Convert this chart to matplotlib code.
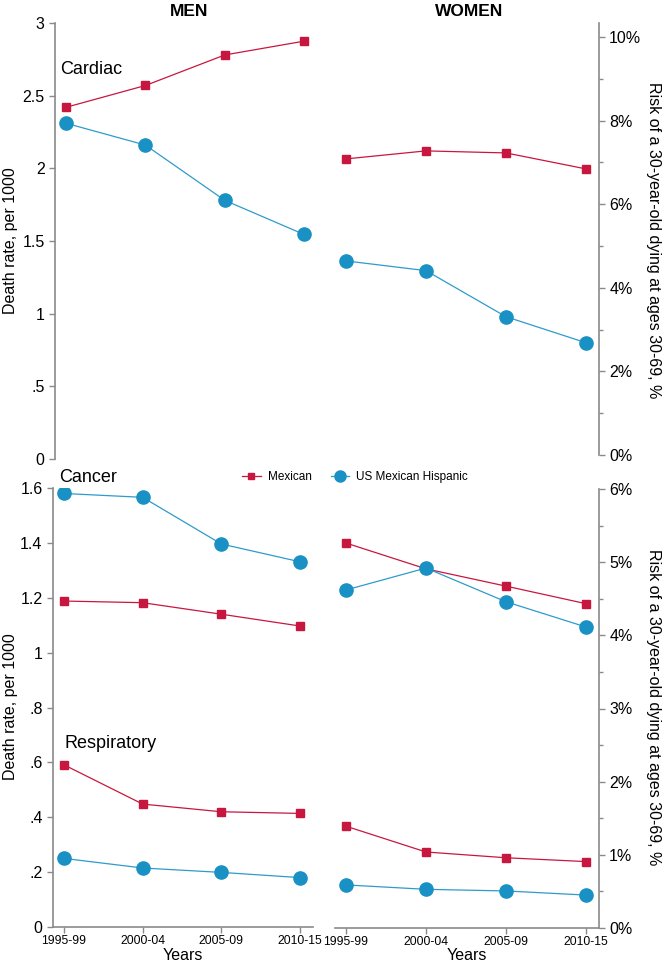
import matplotlib
matplotlib.use("Agg")
import matplotlib.pyplot as plt
from matplotlib.lines import Line2D

plt.rcParams['font.family'] = ['Liberation Sans', 'DejaVu Sans']

periods = ["1995-99", "2000-04", "2005-09", "2010-15"]
series_names = ["Mexican", "US Mexican Hispanic"]

# Death rates per 1000
men_cardiac_mex = [2.42, 2.57, 2.78, 2.875]
men_cardiac_us = [2.31, 2.16, 1.78, 1.545]
women_cardiac_mex = [2.065, 2.12, 2.106, 1.996]
women_cardiac_us = [1.363, 1.296, 0.979, 0.80]

men_cancer_mex = [1.188, 1.182, 1.140, 1.097]
men_cancer_us = [1.580, 1.566, 1.396, 1.331]
men_resp_mex = [0.591, 0.448, 0.420, 0.414]
men_resp_us = [0.250, 0.215, 0.199, 0.180]

women_cancer_mex = [1.403, 1.309, 1.246, 1.182]
women_cancer_us = [1.232, 1.312, 1.189, 1.097]
women_resp_mex = [0.371, 0.277, 0.256, 0.242]
women_resp_us = [0.157, 0.141, 0.135, 0.120]

top_yticks = [0, 0.5, 1, 1.5, 2, 2.5, 3]
top_yticklabels = ["0", ".5", "1", "1.5", "2", "2.5", "3"]
bot_yticks = [0, 0.2, 0.4, 0.6, 0.8, 1.0, 1.2, 1.4, 1.6]
bot_yticklabels = ["0", ".2", ".4", ".6", ".8", "1", "1.2", "1.4", "1.6"]
top_pct_ticks = [0, 2, 4, 6, 8, 10]
top_pct_minor = [1, 3, 5, 7, 9]
bot_pct_ticks = [0, 1, 2, 3, 4, 5, 6]
bot_pct_minor = [0.5, 1.5, 2.5, 3.5, 4.5, 5.5]

RED = "#c8173f"
BLUE = "#1a91c4"
BLUE_LINE = "#2e9bcc"
GRAY = "#8a8a8a"

W, H = 664, 974
fig = plt.figure(figsize=(W / 100, H / 100), dpi=100)


def ax_at(l, t, r, b):
    return fig.add_axes([l / W, 1 - b / H, (r - l) / W, (b - t) / H])


def ftext(x, y, s, **kw):
    fig.text(x / W, 1 - y / H, s, **kw)


def style(ax, spines):
    for s in ["left", "right", "top", "bottom"]:
        ax.spines[s].set_visible(s in spines)
        ax.spines[s].set_color(GRAY)
        ax.spines[s].set_linewidth(1.2)
    ax.tick_params(axis="both", which="both", direction="out", color=GRAY,
                   labelsize=11.5, width=1.0, length=4)
    ax.tick_params(axis="both", which="minor", length=3)
    ax.patch.set_alpha(0)


def plot_pair(ax, mex, us):
    x = list(range(len(periods)))
    ax.plot(x, mex, color=RED, lw=0.9, marker="s", ms=5.2, mec=RED, mfc=RED, zorder=3)
    ax.plot(x, us, color=BLUE_LINE, lw=0.9, marker="o", ms=9.5, mec=BLUE, mfc=BLUE, zorder=3)


XL = (-0.14, 3.16)

# Top-left: MEN cardiac
tl = ax_at(55, 23, 316.7, 459)
plot_pair(tl, men_cardiac_mex, men_cardiac_us)
tl.set_xlim(*XL)
tl.set_ylim(0, 3)
style(tl, ["left"])
tl.set_xticks([])
tl.set_yticks(top_yticks)
tl.set_yticklabels(top_yticklabels)

# Top-right: WOMEN cardiac
tr = ax_at(334.8, 23, 598.8, 455)
plot_pair(tr, women_cardiac_mex, women_cardiac_us)
tr.set_xlim(*XL)
tr.set_ylim(4 / 145.3, 3)
style(tr, [])
tr.set_xticks([])
tr.set_yticks([])
tr2 = tr.twinx()
tr2.set_ylim(0, 10.335)
style(tr2, ["right"])
tr2.set_yticks(top_pct_ticks)
tr2.set_yticklabels([f"{v}%" for v in top_pct_ticks])
tr2.set_yticks(top_pct_minor, minor=True)

# Bottom-left: MEN cancer / respiratory
bl = ax_at(53, 488, 312.6, 927)
plot_pair(bl, men_cancer_mex, men_cancer_us)
plot_pair(bl, men_resp_mex, men_resp_us)
bl.set_xlim(*XL)
bl.set_ylim(0, 1.6)
style(bl, ["left", "bottom"])
bl.set_yticks(bot_yticks)
bl.set_yticklabels(bot_yticklabels)
bl.set_xticks(range(len(periods)))
bl.set_xticklabels(periods, fontsize=8.7)
bl.tick_params(axis="x", pad=2)

# Bottom-right: WOMEN cancer / respiratory
br = ax_at(334.8, 489, 598.8, 928)
plot_pair(br, women_cancer_mex, women_cancer_us)
plot_pair(br, women_resp_mex, women_resp_us)
br.set_xlim(*XL)
br.set_ylim(0, 1.6)
style(br, ["bottom"])
br.set_yticks([])
br.set_xticks(range(len(periods)))
br.set_xticklabels(periods, fontsize=8.7)
br.tick_params(axis="x", pad=2)
br2 = br.twinx()
br2.set_ylim(0, 6)
style(br2, ["right"])
br2.set_yticks(bot_pct_ticks)
br2.set_yticklabels([f"{v}%" for v in bot_pct_ticks])
br2.set_yticks(bot_pct_minor, minor=True)

# Texts
ylab = "Death rate, per 1000"
rlab = "Risk of a 30-year-old dying at ages 30-69, %"
ftext(11, 241, ylab, rotation=90, fontsize=11.5, ha="center", va="center")
ftext(11, 707, ylab, rotation=90, fontsize=11.5, ha="center", va="center")
ftext(653, 240, rlab, rotation=270, fontsize=11.5, ha="center", va="center")
ftext(653, 707, rlab, rotation=270, fontsize=11.5, ha="center", va="center")
ftext(189, 12, "MEN", fontsize=12.5, fontweight="bold", ha="center", va="center")
ftext(469, 12, "WOMEN", fontsize=12.5, fontweight="bold", ha="center", va="center")
ftext(183, 955, "Years", fontsize=11.5, ha="center", va="center")
ftext(467, 955, "Years", fontsize=11.5, ha="center", va="center")
ftext(60, 69, "Cardiac", fontsize=13, ha="left", va="center")
ftext(59, 478, "Cancer", fontsize=13, ha="left", va="center")
ftext(65, 743, "Respiratory", fontsize=13, ha="left", va="center")

# Legend
handles = [
    Line2D([], [], color=RED, lw=0.9, marker="s", ms=4.5, mec=RED, mfc=RED),
    Line2D([], [], color=BLUE_LINE, lw=0.9, marker="o", ms=8, mec=BLUE, mfc=BLUE),
]
fig.legend(handles, series_names, loc="center", ncol=2, frameon=False,
           bbox_to_anchor=(355 / W, 1 - 477 / H), fontsize=8.5,
           handlelength=1.6, columnspacing=1.6, handletextpad=0.6)

fig.savefig("out.png", dpi=100)
